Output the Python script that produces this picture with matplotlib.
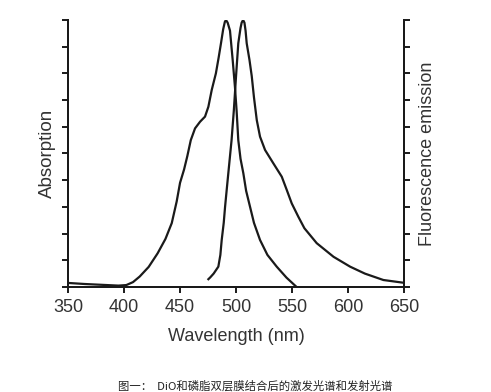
import matplotlib
matplotlib.use("Agg")
import matplotlib.pyplot as plt

plt.rcParams["font.family"] = ["Liberation Sans", "DejaVu Sans"]

# absorption (excitation) spectrum, normalised
abs_wl = [350, 365, 380, 395, 402, 408, 414, 422, 430, 437, 442.6, 447, 450,
          453.6, 456.5, 459.6, 463.4, 467.9, 472.3, 475.3, 478.3, 482, 484.5,
          486.6, 488.5, 490, 491, 492.5, 494.6, 497, 499, 500.5, 502, 504,
          506.5, 509, 512.5, 516, 521.4, 528, 536.3, 545, 554]
abs_val = [0.015, 0.011, 0.008, 0.005, 0.007, 0.018, 0.039, 0.075, 0.126, 0.18,
           0.239, 0.32, 0.39, 0.44, 0.49, 0.55, 0.594, 0.619, 0.638, 0.675,
           0.738, 0.80, 0.86, 0.914, 0.965, 0.993, 1.0, 0.99, 0.96, 0.85,
           0.75, 0.66, 0.55, 0.48, 0.426, 0.36, 0.30, 0.24, 0.176, 0.12, 0.076,
           0.035, 0.0]

# fluorescence emission spectrum, normalised
em_wl = [475.3, 477, 480, 484.2, 486, 487.2, 489, 490.2, 491.8, 493.1, 496, 498,
         500, 502, 504, 505, 506.3, 507.5, 508.5, 509.5, 512, 514, 516, 518.5,
         521.4, 525.9, 533.3, 540.8, 545.3, 549.7, 555.6, 561, 572, 587, 601.8,
         615, 631.5, 649]
em_val = [0.029, 0.036, 0.05, 0.076, 0.12, 0.176, 0.24, 0.30, 0.37, 0.426, 0.55,
          0.66, 0.79, 0.913, 0.97, 0.99, 1.0, 0.99, 0.96, 0.913, 0.85, 0.79,
          0.71, 0.625, 0.563, 0.513, 0.463, 0.413, 0.363, 0.313, 0.263, 0.22,
          0.164, 0.113, 0.076, 0.05, 0.026, 0.016]

x_ticks = [350, 400, 450, 500, 550, 600, 650]
y_ticks = [i / 10 for i in range(11)]

ink = "#1a1a1a"
text_col = "#333333"

fig = plt.figure(figsize=(4.91, 3.92), dpi=100)
ax = fig.add_axes([0.1385, 0.268, 0.6845, 0.681])
ax2 = ax.twinx()

ax.plot(abs_wl, abs_val, color=ink, linewidth=1.6)
ax2.plot(em_wl, em_val, color=ink, linewidth=1.6)

for a in (ax, ax2):
    a.set_xlim(350, 650)
    a.set_ylim(0, 1.0)
    a.spines["top"].set_visible(False)
    for s in a.spines.values():
        s.set_linewidth(1.4)
        s.set_color(ink)

ax.set_xticks(x_ticks)
ax.set_yticks(y_ticks)
ax.set_yticklabels([])
ax2.set_yticks(y_ticks)
ax2.set_yticklabels([])
ax.tick_params(axis="x", length=4, width=1.4, color=ink, labelsize=13,
               labelcolor=text_col, pad=4.5)
ax.tick_params(axis="y", length=4, width=1.4, color=ink)
ax2.tick_params(axis="y", length=4, width=1.4, color=ink)

ax.set_xlabel("Wavelength (nm)", fontsize=13, color=text_col, labelpad=9)
ax.set_ylabel("Absorption", fontsize=13.5, color=text_col, labelpad=1.5)
ax2.set_ylabel("Fluorescence emission", fontsize=13, color=text_col,
               labelpad=3, rotation=90)

fig.text(0.52, 0.016, "图一：  DiO和磷脂双层膜结合后的激发光谱和发射光谱",
         ha="center", va="center", fontsize=8.2, color="#222222",
         family=["Noto Sans CJK SC", "DejaVu Sans"])

fig.savefig("out.png", dpi=100)
